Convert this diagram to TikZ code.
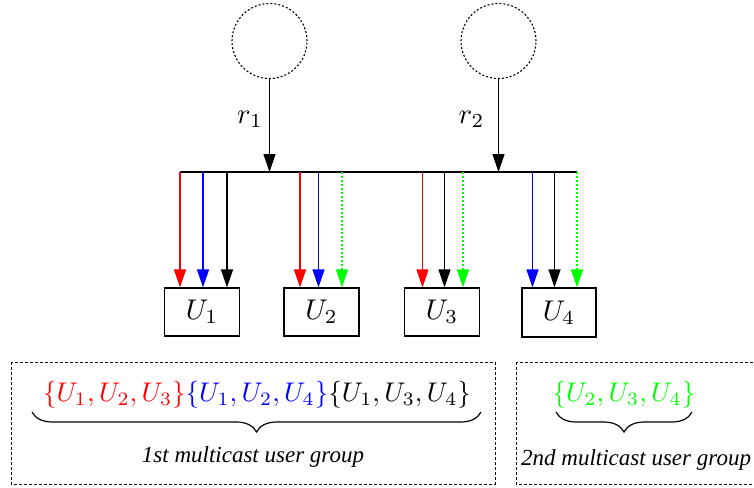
\documentclass[tikz,border=0pt]{standalone}
\usepackage{fontspec}
\newfontfamily\labelfont{Liberation Serif}
\usetikzlibrary{arrows.meta,decorations.pathreplacing}
\definecolor{cred}{RGB}{255,0,0}
\definecolor{cblue}{RGB}{0,0,255}
\definecolor{cgreen}{RGB}{0,255,0}
\newcommand{\BigMath}[1]{\scalebox{2.85}{$#1$}}
\newcommand{\SetMath}[1]{\scalebox{2.7}{$#1$}}
\newcommand{\labsz}{\labelfont\itshape\fontsize{23}{28}\selectfont}
\begin{document}
\begin{tikzpicture}[x=1pt,y=-1pt,
  arr/.style={-{Triangle[length=18pt,width=12pt]}, line width=1.2pt},
  src/.style={circle, draw, line width=1.1pt, dash pattern=on 2pt off 2pt, minimum size=75pt, inner sep=0pt},
  ubox/.style={draw, line width=1.2pt, minimum width=75pt, minimum height=48pt, inner sep=0pt},
  grp/.style={draw, line width=0.8pt, dash pattern=on 3pt off 2pt},
  dots/.style={dash pattern=on 2pt off 2pt},
  brc/.style={decorate, decoration={brace, mirror, amplitude=20pt}, line width=1.2pt},
  lab/.style={inner sep=0pt}]
\useasboundingbox (0,0) rectangle (754,487);

% sources
\node[src] (s1) at (269.5,41) {};
\node[src] (s2) at (498.5,41) {};
\coordinate (busL) at (180,172);
\coordinate (busR) at (577,172);
\draw[line width=1.2pt] (busL) -- (busR);
\draw[arr] (s1.south) -- (s1.south |- busL);
\draw[arr] (s2.south) -- (s2.south |- busL);
\node[lab, anchor=base] (r1) at (250,123) {\BigMath{r_1}};
\node[lab, anchor=base] (r2) at (471.5,123) {\BigMath{r_2}};

% users
\node[ubox] (u1) at (202,312) {\BigMath{U_1}};
\node[ubox] (u2) at (321.5,312) {\BigMath{U_2}};
\node[ubox] (u3) at (442,312) {\BigMath{U_3}};
\node[ubox, minimum width=74pt, minimum height=49pt] (u4) at (559,312.5) {\BigMath{U_4}};

% feeds from bus
\foreach \i/\xx/\cc/\bb/\st in {
  a/180/cred/u1/solid, b/203/cblue/u1/solid, c/227/black/u1/solid,
  d/300/cred/u2/solid, e/318.5/cblue/u2/solid, f/342/cgreen/u2/dots,
  g/422.5/cred/u3/solid, h/444.5/black/u3/solid, k/463/cgreen/u3/dots,
  l/532.5/cblue/u4/solid, m/554.5/black/u4/solid, n/577/cgreen/u4/dots}{
  \coordinate (t\i) at (\xx,172);
  \draw[arr, \cc, \st] (t\i) -- (t\i |- \bb.north);
}

% groups
\draw[grp] (11,362) rectangle (495,484);
\draw[grp] (516,362) rectangle (760,484);

\node[lab, anchor=base] (set1) at (257,401)
  {\SetMath{\color{cred}\{U_1,U_2,U_3\}\color{cblue}\{U_1,U_2,U_4\}\color{black}\{U_1,U_3,U_4\}}};
\node[lab, anchor=base] (set2) at (624,401) {\SetMath{\color{cgreen}\{U_2,U_3,U_4\}}};

\coordinate (b1l) at (32,412);
\coordinate (b1r) at (481,412);
\coordinate (b2l) at (556,412);
\coordinate (b2r) at (692,412);
\draw[brc] (b1l) -- (b1r);
\draw[brc] (b2l) -- (b2r);

\node[font=\labsz, inner sep=0pt, anchor=base] (g1) at (253,462) {1st multicast user group};
\node[font=\labsz, inner sep=0pt, anchor=base west] (g2) at (521,465) {2nd multicast user group};
\end{tikzpicture}
\end{document}
